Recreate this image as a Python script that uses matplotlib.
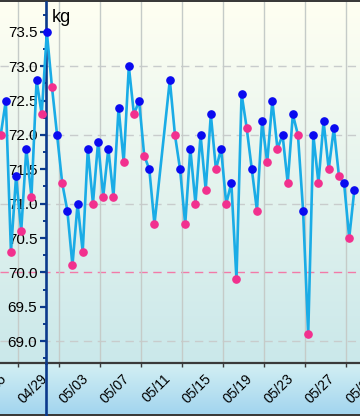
import numpy as np
import matplotlib.pyplot as plt
import matplotlib.dates as mdates
from matplotlib.lines import Line2D
from matplotlib.transforms import ScaledTranslation
from matplotlib.colors import to_rgb
from datetime import datetime, timedelta

plt.rcParams['font.family'] = ['Liberation Sans', 'DejaVu Sans']

# Datos: peso de mañana (rosa) y de noche (azul) por día
year = 2024
days = ['04/23', '04/24', '04/25', '04/26', '04/27', '04/28', '04/29', '04/30',
        '05/01', '05/02', '05/03', '05/04', '05/05', '05/06', '05/07', '05/08',
        '05/09', '05/10', '05/11', '05/12', '05/13', '05/14', '05/15', '05/16',
        '05/17', '05/18', '05/19', '05/20', '05/21', '05/22', '05/23', '05/24',
        '05/25', '05/26', '05/27']
morning = [72.0, 70.3, 70.6, 71.1, 72.3, 72.7, 71.3, 70.1,
           70.3, 71.0, 71.1, 71.1, 71.6, 72.3, 71.7, 70.7,
           None, 72.0, 70.7, 71.0, 71.2, 71.5, 71.0, 69.9,
           72.1, 70.9, 71.6, 71.8, 71.3, 72.0, 69.1, 71.3,
           71.5, 71.4, 70.5]
evening = [72.5, 71.4, 71.8, 72.8, 73.5, 72.0, 70.9, 71.0,
           71.8, 71.9, 71.8, 72.4, 73.0, 72.5, 71.5, None,
           72.8, 71.5, 71.8, 72.0, 72.3, 71.8, 71.3, 72.6,
           71.5, 72.2, 72.5, 72.0, 72.3, 70.9, 72.0, 72.2,
           72.1, 71.3, 71.2]
morning_time = (7, 30)
evening_time = (19, 30)

tick_days = ['04/25', '04/29', '05/03', '05/07', '05/11', '05/15',
             '05/19', '05/23', '05/27', '05/31']
y_ticks = [69.0, 69.5, 70.0, 70.5, 71.0, 71.5, 72.0, 72.5, 73.0, 73.5]
target = 70.0


def to_date(d, hm=(0, 0)):
    m, dd = d.split('/')
    return datetime(year, int(m), int(dd), hm[0], hm[1])


# Construir la serie completa en orden temporal
times, weights, colors = [], [], []
for d, am, pm in zip(days, morning, evening):
    if am is not None:
        times.append(to_date(d, morning_time)); weights.append(am); colors.append('m')
    if pm is not None:
        times.append(to_date(d, evening_time)); weights.append(pm); colors.append('e')
times = np.array(times)
weights = np.array(weights)
colors = np.array(colors)

W, H = 360, 416
AW = 400  # ancho del eje en px (sale por la derecha para ver la etiqueta 05/31 cortada)
fig = plt.figure(figsize=(W / 100, H / 100), dpi=100)

# Fondo degradado
def grad(c1, c2, n):
    a, b = np.array(to_rgb(c1)), np.array(to_rgb(c2))
    t = np.linspace(0, 1, n)[:, None]
    return a * (1 - t) + b * t

bg = np.vstack([grad('#3a3a3a', '#3a3a3a', 2),
                grad('#fffff2', '#cae8ea', 362),
                grad('#d2eff3', '#a3d5ef', 50),
                grad('#3a3a3a', '#3a3a3a', 2)])
bg_ax = fig.add_axes([0, 0, 1, 1], zorder=-1)
bg_ax.imshow(bg[:, None, :], aspect='auto', extent=[0, 1, 0, 1])
bg_ax.axis('off')

ax = fig.add_axes([0, (H - 363) / H, AW / W, 361 / H])
ax.set_facecolor('none')

px_day = 10.25
base = datetime(year, 4, 29)

# Rejilla
ax.set_xticks([to_date(d) for d in tick_days])
ax.xaxis.set_major_formatter(mdates.DateFormatter('%m/%d'))
ax.set_yticks(y_ticks)
ax.set_yticks(np.arange(68.75, 73.9, 0.25), minor=True)
ax.set_yticklabels([f'{v:.1f}' for v in y_ticks])
ax.grid(axis='x', color='#c5cbc8', lw=1)
for v in y_ticks:
    if v == int(v) and v != target:
        ax.axhline(v, color='#c8cccc', lw=1, ls=(0, (6, 4)), zorder=1)
ax.axhline(target, color='#f27aa8', lw=1, ls=(0, (6, 4)), zorder=1)

# Serie
ax.plot(times, weights, color='#1aace6', lw=1.9, zorder=3)
ax.plot(times[colors == 'e'], weights[colors == 'e'], 'o', color='#0a0af0',
        ms=5.2, zorder=4)
ax.plot(times[colors == 'm'], weights[colors == 'm'], 'o', color='#f2308e',
        ms=5.2, zorder=4)

ax.set_xlim(base - timedelta(days=59 / px_day), base + timedelta(days=(AW - 59) / px_day))
ax.set_ylim(69.0 - 22 / 68.7, 73.5 + 30 / 68.7)

# Ejes
for s in ['top', 'right']:
    ax.spines[s].set_visible(False)
ax.spines['left'].set_position(('axes', 45.7 / AW))
ax.spines['left'].set_color('#0b3a8c')
ax.spines['left'].set_linewidth(1.9)
ax.spines['bottom'].set_color('#3a3a3a')
ax.spines['bottom'].set_linewidth(1.6)
ax.tick_params(axis='y', which='major', direction='out', length=4, width=1.6,
               color='#0b3a8c', pad=2, labelsize=11)
ax.tick_params(axis='y', which='minor', direction='out', length=2.5, width=1.4,
               color='#0b3a8c')
ax.tick_params(axis='x', direction='out', length=3, width=1, color='#3a3a3a',
               pad=3, labelsize=10)
offset = ScaledTranslation(-9 / 100, 0, fig.dpi_scale_trans)
for lab in ax.get_xticklabels():
    lab.set_rotation(45)
    lab.set_ha('right')
    lab.set_transform(lab.get_transform() + offset)

fig.add_artist(Line2D([45.7 / W] * 2, [0, (H - 363) / H], color='#0b3a8c',
                      lw=1.9, transform=fig.transFigure))

ax.text(52 / AW, (363 - 17) / 361, 'kg', transform=ax.transAxes, fontsize=13,
        va='center', ha='left')

fig.savefig('out.png', dpi=100)
